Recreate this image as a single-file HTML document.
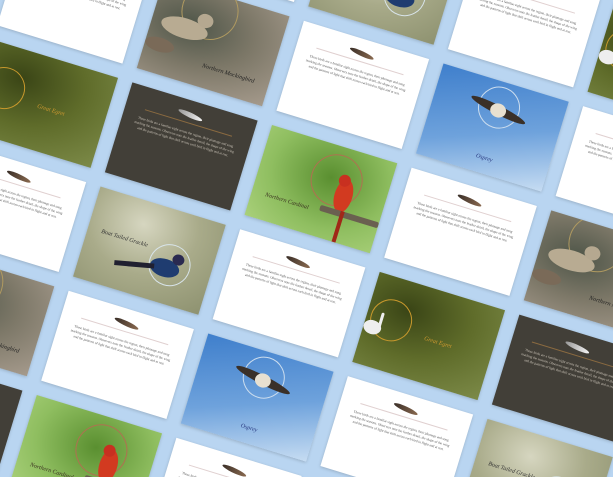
<!DOCTYPE html>
<html><head><meta charset="utf-8">
<style>
html{margin:0;padding:0;width:613px;height:477px;overflow:hidden}
body{margin:0;padding:0;width:613px;height:477px;overflow:hidden;background:#b9d5f1;position:relative;font-family:"Liberation Serif",serif}
#grid{position:absolute;left:272px;top:125px;transform-origin:0 0;transform:rotate(17deg)}
.card{position:absolute;width:131px;height:94px;overflow:hidden;box-shadow:0 1px 3px rgba(0,0,0,.18)}
.lbl{position:absolute;font-size:6px;font-style:italic;white-space:nowrap}
.txt{position:absolute;left:12px;right:12px;top:30px;font-size:3.4px;line-height:5px;text-align:center}
.feather{position:absolute;left:52px;top:12px;width:26px;height:5px;border-radius:50%;transform:rotate(8deg)}
.rule{position:absolute;left:20px;right:20px;top:22px;height:0;border-top:.5px solid}
.e{position:absolute;border-radius:50%}
.orb{position:absolute;border-radius:50%;border:.6px solid}
</style></head><body>
<div id="wrap" style="position:absolute;left:0;top:0;width:613px;height:477px;overflow:hidden">
<div id="grid"></div>
</div>
<script>
// card layout: column index, row index, card type
const cols=[-2,-1,0,1,2, -2,-1,0,1,2, -2,-1,0,1,2, -2,-1,0,1,2, -2,-1,0, 3];
const rows=[-1,-1,-1,-1,-1, 0,0,0,0,0, 1,1,1,1,1, 2,2,2,2,2, 3,3,3, 2];
const kinds=['text','mock','text','osprey','text','egret','dark','cardinal','text','mock','text','grackle','text','egret','dark','mock','text','osprey','text','grackle','dark','cardinal','text','text'];
const topRow=['text','grackle','text','egret'];
const topCols=[-1,0,1,2];
const body="These birds are a familiar sight across the region, their plumage and song marking the seasons. Observers note the feather detail, the shape of the wing and the patterns of light that shift across each bird in flight and at rest.";
const grid=document.getElementById('grid');
function el(tag,cls,parent,style){const d=document.createElement(tag);if(cls)d.className=cls;if(style)d.style.cssText=style;parent.appendChild(d);return d;}
function build(kind,i,j){
  const c=el('div','card',grid,'left:'+(i*146)+'px;top:'+(j*109)+'px');
  
  
  if(kind==='text'||kind==='dark'){
    const dark=kind==='dark';
    c.style.background=dark?'#423f38':'#fff';
    const f=el('div','feather',c,'background:'+(dark?'linear-gradient(90deg,#999,#f4f4f4)':'linear-gradient(90deg,#3a2f28,#8a6a50)'));
    
    
    el('div','rule',c,'border-color:'+(dark?'#8a6a40':'#e0d0d0'));
    const t=el('div','txt',c,'color:'+(dark?'#cfc8bc':'#555'));
    t.textContent=body;
    
    
    return;
  }
  let bg,label,lc,lx,ly;
  if(kind==='cardinal'){bg='radial-gradient(ellipse at 55% 35%,#5a8f30,#8fbe60 60%,#a9d07a)';label='Northern Cardinal';lc='#3a3020';lx=14;ly=66;
    el('div','orb',c,'left:52px;top:8px;width:50px;height:50px;border-color:#b07050');
    el('div','e',c,'left:80px;top:30px;width:18px;height:34px;background:#d23a20');
    el('div','e',c,'left:80px;top:26px;width:12px;height:12px;background:#c83020');
    el('div','',c,'position:absolute;left:70px;top:62px;width:61px;height:6px;background:#6a6050;border-radius:2px');
    el('div','',c,'position:absolute;left:91px;top:62px;width:4px;height:32px;background:#a02818');}
  if(kind==='osprey'){bg='linear-gradient(160deg,#3f7fcc,#6ea2dc 55%,#c6dcf2)';label='Osprey';lc='#2a3a80';lx=58;ly=76;
    el('div','orb',c,'left:45px;top:5px;width:40px;height:40px;border-color:#cde');
    el('div','e',c,'left:36px;top:24px;width:60px;height:9px;background:#3a3028;transform:rotate(10deg)');
    el('div','e',c,'left:58px;top:22px;width:16px;height:14px;background:#e8e0d0');}
  if(kind==='egret'){bg='radial-gradient(ellipse at 30% 30%,#3a4516,#5f6c2a 50%,#7c8a48)';label='Great Egret';lc='#d09a30';lx=62;ly=48;
    el('div','orb',c,'left:4px;top:22px;width:40px;height:40px;border-color:#c8982c');
    el('div','e',c,'left:0px;top:48px;width:18px;height:14px;background:#eee');
    el('div','',c,'position:absolute;left:14px;top:38px;width:3px;height:18px;background:#eee;border-radius:2px');}
  if(kind==='mock'){bg='radial-gradient(ellipse at 30% 40%,#4e5548,#7d7868 50%,#a59a8c)';label='Northern Mockingbird';lc='#222';lx=62;ly=70;
    el('div','orb',c,'left:25px;top:-10px;width:55px;height:55px;border-color:#b09a60');
    el('div','e',c,'left:10px;top:32px;width:48px;height:20px;background:#b8ab92');
    el('div','e',c,'left:44px;top:22px;width:16px;height:14px;background:#b5a890');
    el('div','e',c,'left:0px;top:58px;width:30px;height:14px;background:#7a6a58');}
  if(kind==='grackle'){bg='radial-gradient(ellipse at 40% 25%,#d6d6c0,#a9ab8a 50%,#8e9270)';label='Boat Tailed Grackle';lc='#333';lx=14;ly=40;
    el('div','orb',c,'left:68px;top:34px;width:40px;height:40px;border-color:#d8e4ea');
    el('div','e',c,'left:70px;top:50px;width:30px;height:18px;background:#1f3c70');
    el('div','e',c,'left:90px;top:42px;width:12px;height:11px;background:#2a2a50');
    el('div','',c,'position:absolute;left:35px;top:62px;width:40px;height:5px;background:#202030;transform:rotate(-12deg)');}
  c.style.background=bg;
  const l=el('div','lbl',c,'left:'+lx+'px;top:'+ly+'px;color:'+lc);
  l.textContent=label;
  
  
}
for(let k=0;k<kinds.length;k++)build(kinds[k],cols[k],rows[k]);
for(let k=0;k<topRow.length;k++)build(topRow[k],topCols[k],-2);
</script>
</body></html>
